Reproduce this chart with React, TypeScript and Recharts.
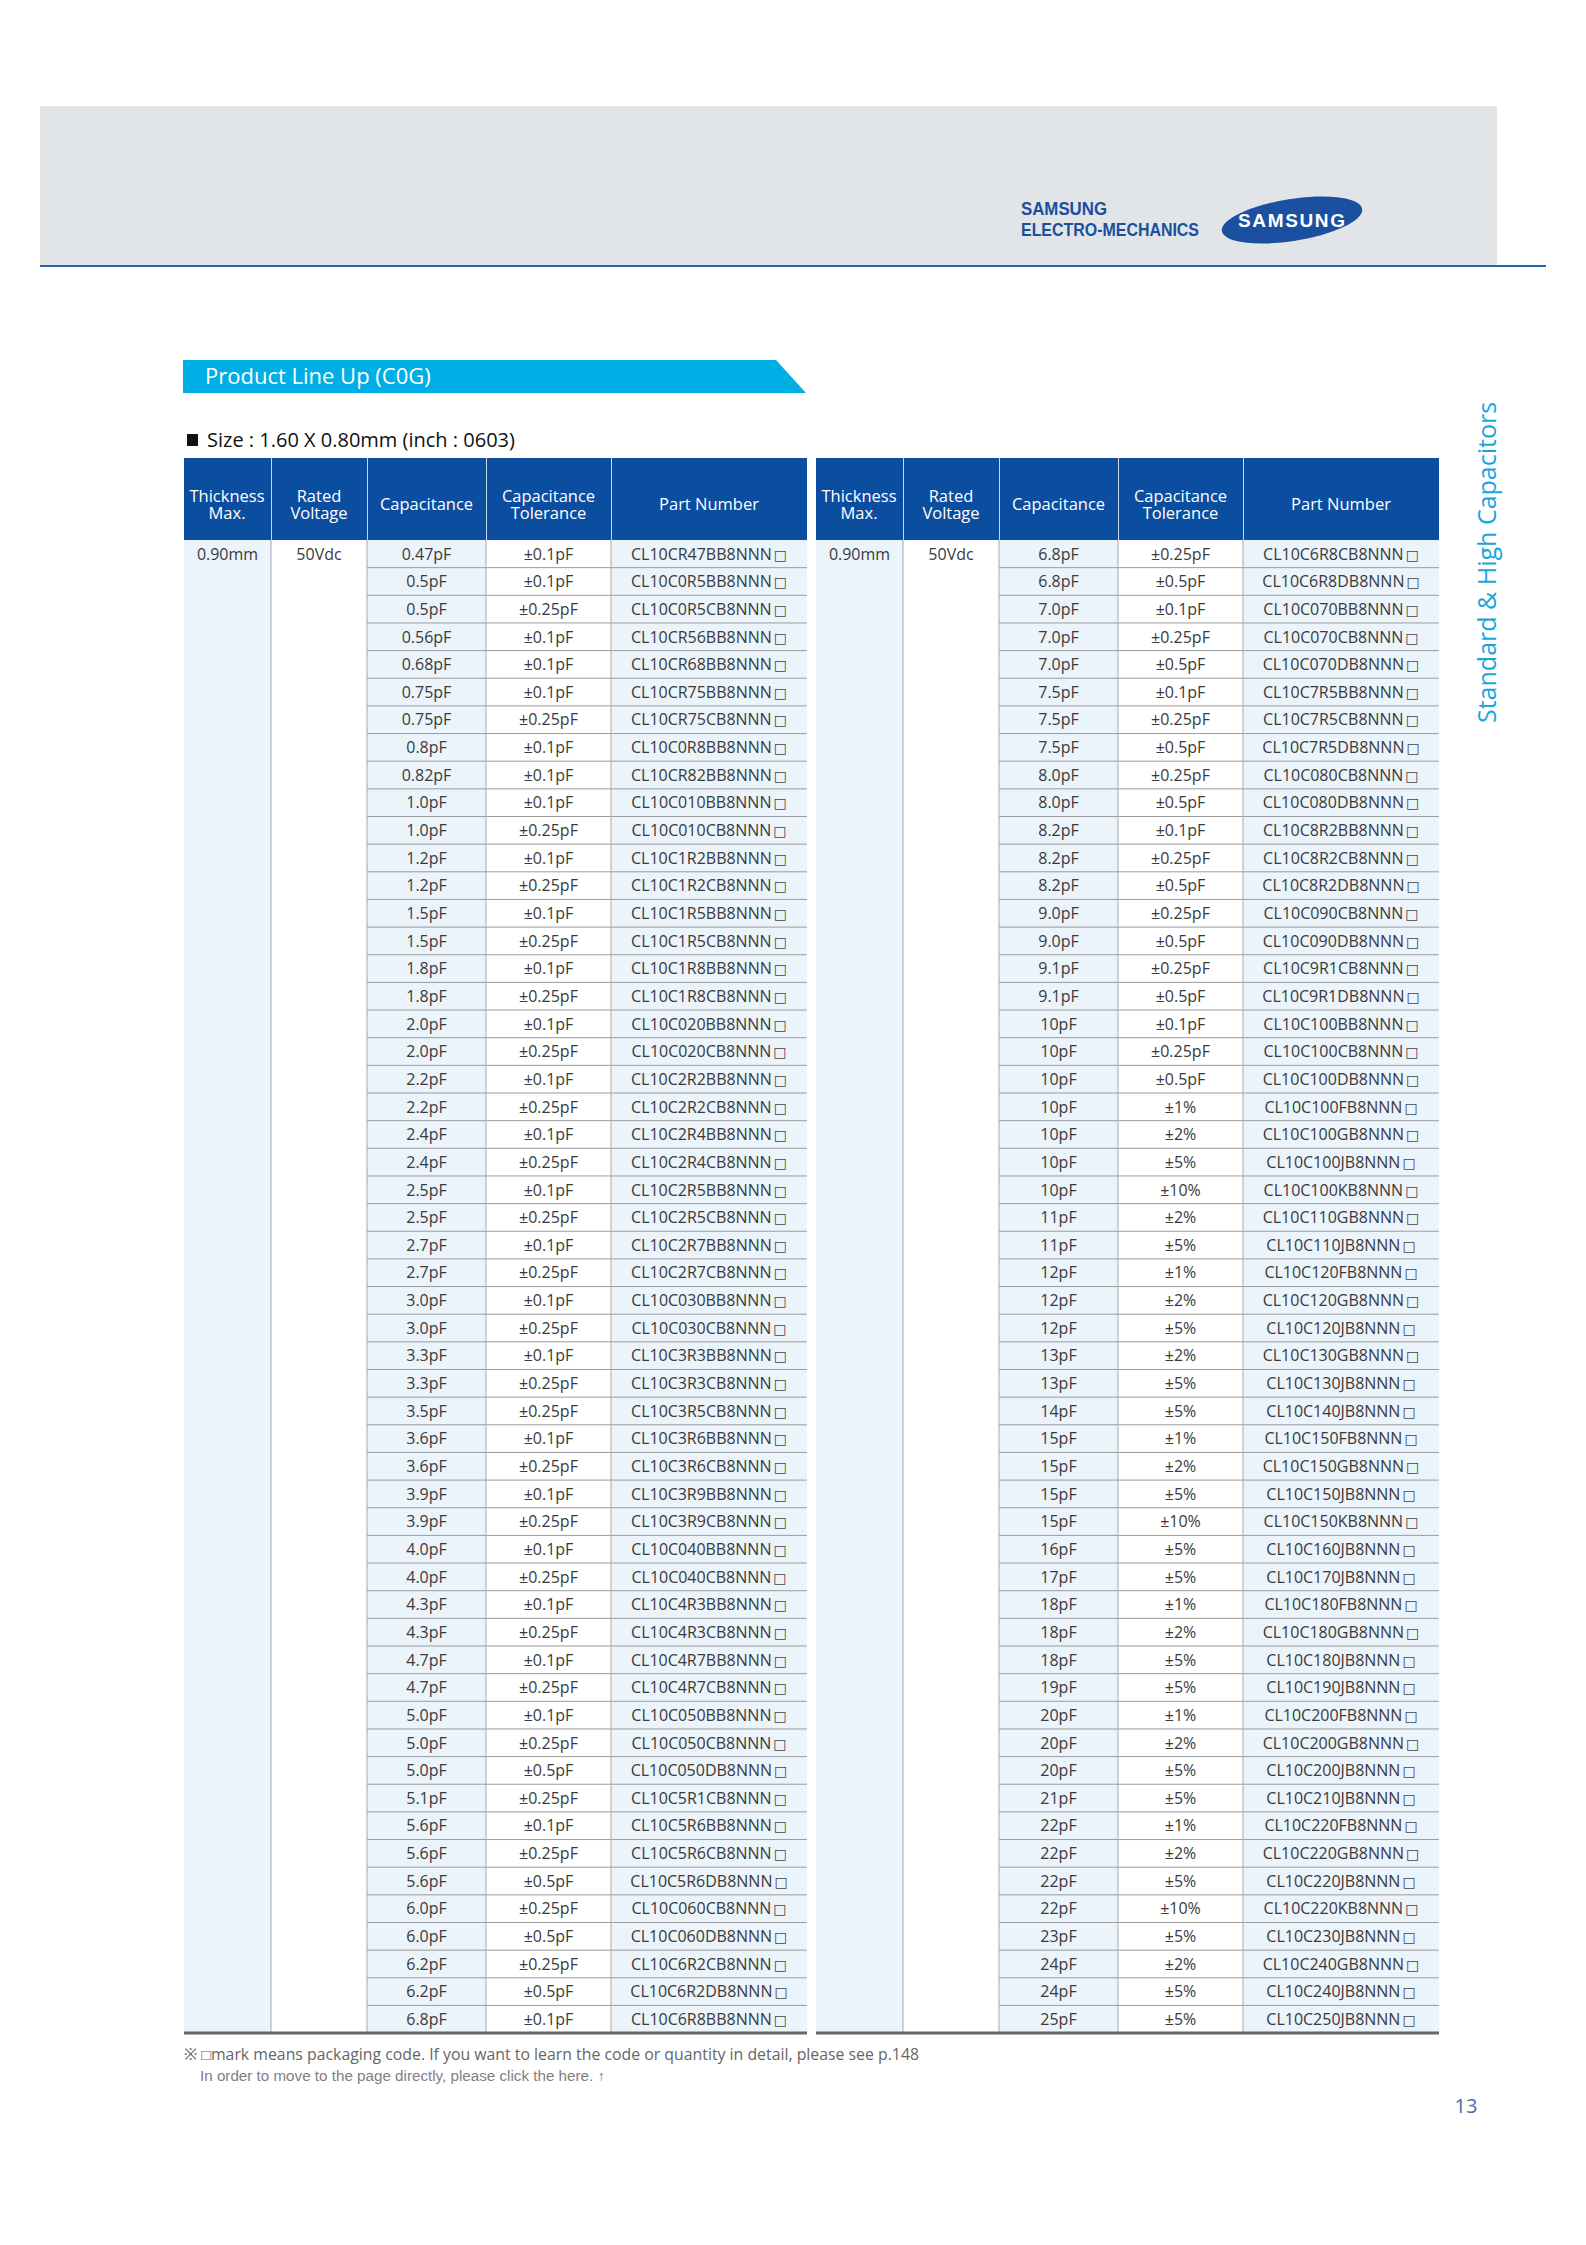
import React from "react";
import { ScatterChart, Scatter, XAxis, YAxis, ReferenceArea, ReferenceLine } from "recharts";

const FONT = "'Open Sans', 'Noto Sans', sans-serif";

// 표 헤더
const headerLabels = ["Thickness\nMax.", "Rated\nVoltage", "Capacitance", "Capacitance\nTolerance", "Part Number"];

// 왼쪽 표
const thicknessLeft = ["0.90mm"];
const voltageLeft = ["50Vdc"];
const capacitanceLeft = [
  "0.47pF", "0.5pF", "0.5pF", "0.56pF", "0.68pF", "0.75pF", "0.75pF", "0.8pF", "0.82pF", "1.0pF",
  "1.0pF", "1.2pF", "1.2pF", "1.5pF", "1.5pF", "1.8pF", "1.8pF", "2.0pF", "2.0pF", "2.2pF",
  "2.2pF", "2.4pF", "2.4pF", "2.5pF", "2.5pF", "2.7pF", "2.7pF", "3.0pF", "3.0pF", "3.3pF",
  "3.3pF", "3.5pF", "3.6pF", "3.6pF", "3.9pF", "3.9pF", "4.0pF", "4.0pF", "4.3pF", "4.3pF",
  "4.7pF", "4.7pF", "5.0pF", "5.0pF", "5.0pF", "5.1pF", "5.6pF", "5.6pF", "5.6pF", "6.0pF",
  "6.0pF", "6.2pF", "6.2pF", "6.8pF",
];
const toleranceLeft = [
  "±0.1pF", "±0.1pF", "±0.25pF", "±0.1pF", "±0.1pF", "±0.1pF", "±0.25pF", "±0.1pF", "±0.1pF", "±0.1pF",
  "±0.25pF", "±0.1pF", "±0.25pF", "±0.1pF", "±0.25pF", "±0.1pF", "±0.25pF", "±0.1pF", "±0.25pF", "±0.1pF",
  "±0.25pF", "±0.1pF", "±0.25pF", "±0.1pF", "±0.25pF", "±0.1pF", "±0.25pF", "±0.1pF", "±0.25pF", "±0.1pF",
  "±0.25pF", "±0.25pF", "±0.1pF", "±0.25pF", "±0.1pF", "±0.25pF", "±0.1pF", "±0.25pF", "±0.1pF", "±0.25pF",
  "±0.1pF", "±0.25pF", "±0.1pF", "±0.25pF", "±0.5pF", "±0.25pF", "±0.1pF", "±0.25pF", "±0.5pF", "±0.25pF",
  "±0.5pF", "±0.25pF", "±0.5pF", "±0.1pF",
];
const partNumberLeft = [
  "CL10CR47BB8NNN□", "CL10C0R5BB8NNN□", "CL10C0R5CB8NNN□", "CL10CR56BB8NNN□", "CL10CR68BB8NNN□",
  "CL10CR75BB8NNN□", "CL10CR75CB8NNN□", "CL10C0R8BB8NNN□", "CL10CR82BB8NNN□", "CL10C010BB8NNN□",
  "CL10C010CB8NNN□", "CL10C1R2BB8NNN□", "CL10C1R2CB8NNN□", "CL10C1R5BB8NNN□", "CL10C1R5CB8NNN□",
  "CL10C1R8BB8NNN□", "CL10C1R8CB8NNN□", "CL10C020BB8NNN□", "CL10C020CB8NNN□", "CL10C2R2BB8NNN□",
  "CL10C2R2CB8NNN□", "CL10C2R4BB8NNN□", "CL10C2R4CB8NNN□", "CL10C2R5BB8NNN□", "CL10C2R5CB8NNN□",
  "CL10C2R7BB8NNN□", "CL10C2R7CB8NNN□", "CL10C030BB8NNN□", "CL10C030CB8NNN□", "CL10C3R3BB8NNN□",
  "CL10C3R3CB8NNN□", "CL10C3R5CB8NNN□", "CL10C3R6BB8NNN□", "CL10C3R6CB8NNN□", "CL10C3R9BB8NNN□",
  "CL10C3R9CB8NNN□", "CL10C040BB8NNN□", "CL10C040CB8NNN□", "CL10C4R3BB8NNN□", "CL10C4R3CB8NNN□",
  "CL10C4R7BB8NNN□", "CL10C4R7CB8NNN□", "CL10C050BB8NNN□", "CL10C050CB8NNN□", "CL10C050DB8NNN□",
  "CL10C5R1CB8NNN□", "CL10C5R6BB8NNN□", "CL10C5R6CB8NNN□", "CL10C5R6DB8NNN□", "CL10C060CB8NNN□",
  "CL10C060DB8NNN□", "CL10C6R2CB8NNN□", "CL10C6R2DB8NNN□", "CL10C6R8BB8NNN□",
];

// 오른쪽 표
const thicknessRight = ["0.90mm"];
const voltageRight = ["50Vdc"];
const capacitanceRight = [
  "6.8pF", "6.8pF", "7.0pF", "7.0pF", "7.0pF", "7.5pF", "7.5pF", "7.5pF", "8.0pF", "8.0pF",
  "8.2pF", "8.2pF", "8.2pF", "9.0pF", "9.0pF", "9.1pF", "9.1pF", "10pF", "10pF", "10pF",
  "10pF", "10pF", "10pF", "10pF", "11pF", "11pF", "12pF", "12pF", "12pF", "13pF",
  "13pF", "14pF", "15pF", "15pF", "15pF", "15pF", "16pF", "17pF", "18pF", "18pF",
  "18pF", "19pF", "20pF", "20pF", "20pF", "21pF", "22pF", "22pF", "22pF", "22pF",
  "23pF", "24pF", "24pF", "25pF",
];
const toleranceRight = [
  "±0.25pF", "±0.5pF", "±0.1pF", "±0.25pF", "±0.5pF", "±0.1pF", "±0.25pF", "±0.5pF", "±0.25pF", "±0.5pF",
  "±0.1pF", "±0.25pF", "±0.5pF", "±0.25pF", "±0.5pF", "±0.25pF", "±0.5pF", "±0.1pF", "±0.25pF", "±0.5pF",
  "±1%", "±2%", "±5%", "±10%", "±2%", "±5%", "±1%", "±2%", "±5%", "±2%",
  "±5%", "±5%", "±1%", "±2%", "±5%", "±10%", "±5%", "±5%", "±1%", "±2%",
  "±5%", "±5%", "±1%", "±2%", "±5%", "±5%", "±1%", "±2%", "±5%", "±10%",
  "±5%", "±2%", "±5%", "±5%",
];
const partNumberRight = [
  "CL10C6R8CB8NNN□", "CL10C6R8DB8NNN□", "CL10C070BB8NNN□", "CL10C070CB8NNN□", "CL10C070DB8NNN□",
  "CL10C7R5BB8NNN□", "CL10C7R5CB8NNN□", "CL10C7R5DB8NNN□", "CL10C080CB8NNN□", "CL10C080DB8NNN□",
  "CL10C8R2BB8NNN□", "CL10C8R2CB8NNN□", "CL10C8R2DB8NNN□", "CL10C090CB8NNN□", "CL10C090DB8NNN□",
  "CL10C9R1CB8NNN□", "CL10C9R1DB8NNN□", "CL10C100BB8NNN□", "CL10C100CB8NNN□", "CL10C100DB8NNN□",
  "CL10C100FB8NNN□", "CL10C100GB8NNN□", "CL10C100JB8NNN□", "CL10C100KB8NNN□", "CL10C110GB8NNN□",
  "CL10C110JB8NNN□", "CL10C120FB8NNN□", "CL10C120GB8NNN□", "CL10C120JB8NNN□", "CL10C130GB8NNN□",
  "CL10C130JB8NNN□", "CL10C140JB8NNN□", "CL10C150FB8NNN□", "CL10C150GB8NNN□", "CL10C150JB8NNN□",
  "CL10C150KB8NNN□", "CL10C160JB8NNN□", "CL10C170JB8NNN□", "CL10C180FB8NNN□", "CL10C180GB8NNN□",
  "CL10C180JB8NNN□", "CL10C190JB8NNN□", "CL10C200FB8NNN□", "CL10C200GB8NNN□", "CL10C200JB8NNN□",
  "CL10C210JB8NNN□", "CL10C220FB8NNN□", "CL10C220GB8NNN□", "CL10C220JB8NNN□", "CL10C220KB8NNN□",
  "CL10C230JB8NNN□", "CL10C240GB8NNN□", "CL10C240JB8NNN□", "CL10C250JB8NNN□",
];

// 레이아웃
const COL_WIDTHS = [87, 96, 119, 125, 196];
const SHADED_COLS = [0, 2, 4];
const ROW_H = 27.65;
const HEADER_H = 82;
const TABLE_TOP = 458;

const edges = COL_WIDTHS.reduce((acc, w) => [...acc, acc[acc.length - 1] + w], [0]);
const centers = COL_WIDTHS.map((w, i) => edges[i] + w / 2);
const TABLE_W = edges[edges.length - 1];

function CellText(props: any) {
  const { cx, cy, payload } = props;
  const label: string = payload.label;
  const hasBox = label.endsWith("□");
  return (
    <text x={cx} y={cy} dy="0.36em" textAnchor="middle" fontFamily={FONT} fontSize={16} fill="#3a3a3a">
      {hasBox ? label.slice(0, -1) : label}
      {hasBox && (
        <tspan fontFamily="'DejaVu Sans', sans-serif" fontSize={14} dx={2} fill="#444444">
          □
        </tspan>
      )}
    </text>
  );
}

function ProductTable({ left, thickness, voltage, caps, tols, parts }: any) {
  const rowCount = caps.length;
  const bodyH = rowCount * ROW_H;
  const columns = [thickness, voltage, caps, tols, parts];
  const toPoints = (col: number, values: string[]) =>
    values.map((label, i) => ({ x: centers[col], y: i + 0.5, label }));

  return (
    <div style={{ position: "absolute", left, top: TABLE_TOP, width: TABLE_W }}>
      {/* 헤더 */}
      <div style={{ display: "flex", height: HEADER_H, background: "#0b4d9e" }}>
        {headerLabels.map((label, i) => (
          <div
            key={label}
            style={{
              width: COL_WIDTHS[i],
              boxSizing: "border-box",
              borderLeft: i ? "1px solid #c9d6ea" : "none",
              display: "flex",
              alignItems: "center",
              justifyContent: "center",
              textAlign: "center",
              whiteSpace: "pre-line",
              color: "#ffffff",
              fontFamily: FONT,
              fontSize: 16.5,
              lineHeight: "17px",
              paddingTop: 9,
            }}
          >
            {label}
          </div>
        ))}
      </div>
      {/* 본문 */}
      <ScatterChart width={TABLE_W} height={bodyH + 4} margin={{ top: 0, right: 0, bottom: 4, left: 0 }}>
        <XAxis type="number" dataKey="x" domain={[0, TABLE_W]} allowDataOverflow hide />
        <YAxis type="number" dataKey="y" domain={[0, rowCount]} allowDataOverflow reversed hide />
        {SHADED_COLS.map((c) => (
          <ReferenceArea
            key={`bg-${c}`}
            x1={edges[c]}
            x2={edges[c + 1]}
            y1={0}
            y2={rowCount}
            fill="#ebf3fb"
            fillOpacity={1}
            stroke="none"
          />
        ))}
        {Array.from({ length: rowCount - 1 }, (_, k) => (
          <ReferenceLine
            key={`h-${k}`}
            segment={[
              { x: edges[2], y: k + 1 },
              { x: TABLE_W, y: k + 1 },
            ]}
            stroke="#9c9c9c"
            strokeWidth={1}
          />
        ))}
        {edges.slice(1, -1).map((e) => (
          <ReferenceLine key={`v-${e}`} x={e} stroke="#a8a8a8" strokeWidth={1} />
        ))}
        <ReferenceLine y={rowCount} stroke="#666666" strokeWidth={3} />
        {columns.map((vals: string[], c: number) => (
          <Scatter key={`col-${c}`} data={toPoints(c, vals)} shape={CellText} isAnimationActive={false} />
        ))}
      </ScatterChart>
    </div>
  );
}

export default function App() {
  return (
    <div
      style={{
        position: "absolute",
        left: 0,
        top: 0,
        width: 1586,
        height: 2245,
        background: "#ffffff",
        overflow: "hidden",
        fontFamily: FONT,
      }}
    >
      {/* 상단 배너 및 로고 */}
      <svg width={1586} height={2245} style={{ position: "absolute", left: 0, top: 0 }}>
        <rect x={40} y={106} width={1457} height={160} fill="#e1e5e8" />
        <rect x={40} y={265} width={1506} height={2} fill="#2565ab" />
        <text x={1021} y={215} fontFamily="'Liberation Sans', Arial, sans-serif" fontWeight="bold" fontSize={19} fill="#1b4f9c" textLength={86} lengthAdjust="spacingAndGlyphs">
          SAMSUNG
        </text>
        <text x={1021} y={236} fontFamily="'Liberation Sans', Arial, sans-serif" fontWeight="bold" fontSize={19} fill="#1b4f9c" textLength={178} lengthAdjust="spacingAndGlyphs">
          ELECTRO-MECHANICS
        </text>
        <ellipse cx={1292} cy={220} rx={71} ry={21} fill="#1b4fa0" transform="rotate(-9 1292 220)" />
        <text x={1238} y={227} fontFamily="'Liberation Sans', Arial, sans-serif" fontWeight="bold" fontSize={19} fill="#ffffff" textLength={107} lengthAdjust="spacing">
          SAMSUNG
        </text>

        {/* 제목 띠 */}
        <polygon points="183,360 776,360 806,393 183,393" fill="#00aee6" />
        <text x={205} y={384} fontFamily={FONT} fontSize={22} fill="#ffffff">
          Product Line Up (C0G)
        </text>

        {/* 사이즈 */}
        <rect x={187} y={434} width={11} height={12} fill="#111111" />
        <text x={207} y={447} fontFamily={FONT} fontSize={20} fill="#111111">
          Size : 1.60 X 0.80mm (inch : 0603)
        </text>

        {/* 세로 텍스트 */}
        <text transform="translate(1496 723) rotate(-90)" fontFamily={FONT} fontSize={25} fill="#1aa5de">
          Standard &amp; High Capacitors
        </text>

        {/* 각주 */}
        <text x={184} y={2060} fontFamily={FONT} fontSize={15.5} fill="#666666" textLength={735} lengthAdjust="spacingAndGlyphs">
          ※ □mark means packaging code. If you want to learn the code or quantity in detail, please see p.148
        </text>
        <text x={200} y={2081} fontFamily="'Liberation Sans', Arial, sans-serif" fontSize={14} fill="#808080" textLength={405} lengthAdjust="spacingAndGlyphs">
          In order to move to the page directly, please click the here. ↑
        </text>

        {/* 페이지 번호 */}
        <text x={1466} y={2113} textAnchor="middle" fontFamily={FONT} fontSize={20} fill="#3f70a8">
          13
        </text>
      </svg>

      <ProductTable
        left={183.5}
        thickness={thicknessLeft}
        voltage={voltageLeft}
        caps={capacitanceLeft}
        tols={toleranceLeft}
        parts={partNumberLeft}
      />
      <ProductTable
        left={815.5}
        thickness={thicknessRight}
        voltage={voltageRight}
        caps={capacitanceRight}
        tols={toleranceRight}
        parts={partNumberRight}
      />
    </div>
  );
}
